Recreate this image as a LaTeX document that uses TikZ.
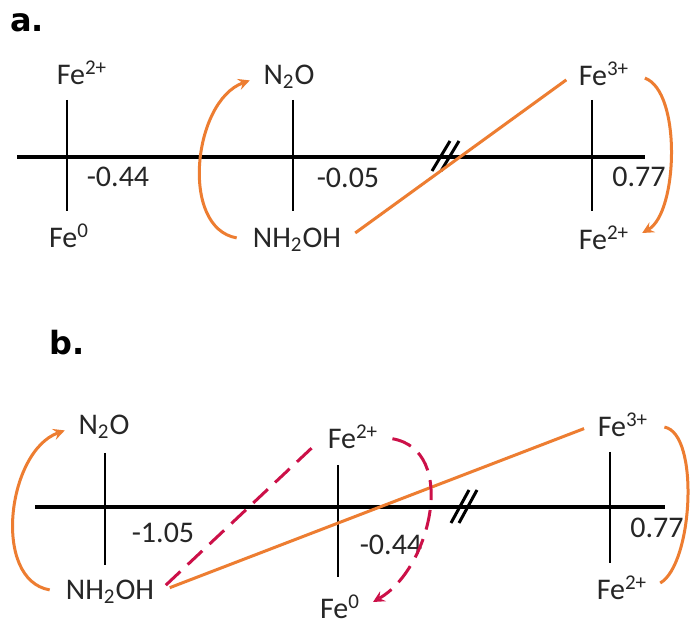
\documentclass[tikz,border=0pt]{standalone}
\usepackage{fontspec}
\setmainfont{Carlito}
\newfontfamily\panelfont{DejaVu Sans}
\usepackage{xcolor}
\definecolor{redoxorange}{RGB}{237,125,49}
\definecolor{redoxred}{RGB}{204,16,72}
\definecolor{labelgray}{RGB}{38,38,38}

\begin{document}
\begin{tikzpicture}[
    x=0.5pt, y=0.5pt,
    every node/.style={font=\fontsize{15}{18}\selectfont, text=labelgray, inner sep=2pt},
    panel/.style={font=\panelfont\bfseries\fontsize{16}{18}\selectfont, text=black},
    axis/.style={line width=1.8pt},
    tick/.style={line width=1pt},
    flow/.style={draw=redoxorange, line width=1.5pt, shorten <=6pt, shorten >=5pt},
    flowdash/.style={draw=redoxred, line width=1.5pt, dash pattern=on 10pt off 5pt, shorten <=5pt, shorten >=5pt},
    >=stealth
]

% Frame
\path[fill=white, use as bounding box] (0,0) rectangle (698,-626);

% Panel a: potential axis
\node[panel] at (27,-23) {a.};
\draw[axis] (17,-157) -- (645,-157);
\foreach \x in {67,293,592}
    \draw[tick] (\x,-100) -- (\x,-211);
\foreach \x in {441,450}
    \draw[line width=1.5pt] (\x-9,-171) -- (\x+9,-141);

% Panel a: couples
\node (aFeII) at (82,-73) {Fe\textsuperscript{2+}};
\node (aFeO) at (69,-236) {Fe\textsuperscript{0}};
\node (aEa) at (118,-177) {-0.44};
\node (aNtwoO) at (289,-77) {N\textsubscript{2}O};
\node (aNH) at (297,-240) {NH\textsubscript{2}OH};
\node (aEb) at (348,-178) {-0.05};
\node (aFeIII) at (604,-74) {Fe\textsuperscript{3+}};
\node (aFeIIlow) at (604,-238) {Fe\textsuperscript{2+}};
\node (aEc) at (639,-177) {0.77};

% Panel a: electron flow
\draw[flow, ->] (aNH.west) to[out=170, in=200, looseness=1.1] (aNtwoO.west);
\draw[flow] (aNH.east) -- (aFeIII.west);
\draw[flow, ->] (aFeIII.east) to[out=-20, in=30, looseness=0.8] (aFeIIlow.east);

% Panel b: potential axis
\node[panel] at (67,-343) {b.};
\draw[axis] (35,-507) -- (665,-507);
\foreach \x/\ya/\yb in {105/453/565, 338/465/577, 610/452/563}
    \draw[tick] (\x,-\ya) -- (\x,-\yb);
\foreach \x in {460,468}
    \draw[line width=1.5pt] (\x-9,-523) -- (\x+9,-490);

% Panel b: couples
\node (bNtwoO) at (104,-427) {N\textsubscript{2}O};
\node (bNH) at (110,-592) {NH\textsubscript{2}OH};
\node (bEa) at (163,-533) {-1.05};
\node (bFeII) at (353,-437) {Fe\textsuperscript{2+}};
\node (bFeO) at (340,-607) {Fe\textsuperscript{0}};
\node (bEb) at (391,-545) {-0.44};
\node (bFeIII) at (623,-425) {Fe\textsuperscript{3+}};
\node (bFeIIlow) at (622,-588) {Fe\textsuperscript{2+}};
\node (bEc) at (657,-528) {0.77};

% Panel b: electron flow
\draw[flow, ->] (bNH.west) to[out=170, in=200, looseness=1.1] (bNtwoO.west);
\draw[flow] (bNH.east) -- (bFeIII.west);
\draw[flowdash] (bNH.east) -- (bFeII.west);
\draw[flowdash, ->] (bFeII.east) to[out=-10, in=30, looseness=1.15] (bFeO.east);
\draw[flow] (bFeIII.east) to[out=-10, in=30, looseness=0.75] (bFeIIlow.east);

\end{tikzpicture}
\end{document}
